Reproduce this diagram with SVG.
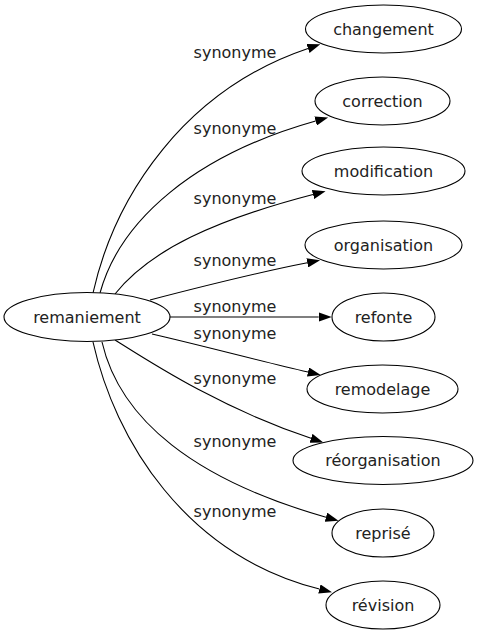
<svg xmlns="http://www.w3.org/2000/svg" width="478" height="635" viewBox="0 0 478 635">
<style>
.node ellipse{fill:#fff;stroke:#000;stroke-width:1.1}
.node text{font-family:"DejaVu Sans",sans-serif;font-size:16px;fill:#222;text-anchor:middle}
.edges path{fill:none;stroke:#000;stroke-width:1.1}
.lbl{font-family:"DejaVu Sans",sans-serif;font-size:16px;fill:#222;text-anchor:middle}
</style>
<defs>
<marker id="arr" viewBox="0 0 13 9.4" refX="0" refY="4.7" markerWidth="13" markerHeight="9.4" markerUnits="userSpaceOnUse" orient="auto">
<path d="M0,0 L13,4.7 L0,9.4 z" fill="#000"/>
</marker>
</defs>
<rect width="478" height="635" fill="#fff"/>
<g class="edges" id="connectors">
<path d="M93,293 C115,195 185,90 308,48.5" marker-end="url(#arr)"/>
<path d="M100,293 C120,220 195,155 315.6,121" marker-end="url(#arr)"/>
<path d="M115,294 C150,250 215,220 313,194.5" marker-end="url(#arr)"/>
<path d="M150,300 C200,287 260,272 307.3,262.8" marker-end="url(#arr)"/>
<path d="M168,317 L318.7,317" marker-end="url(#arr)"/>
<path d="M152,334 C200,345 260,361 308,372" marker-end="url(#arr)"/>
<path d="M115,340 C150,362 220,408 311,438.3" marker-end="url(#arr)"/>
<path d="M102,342 C120,420 195,480 326,517.2" marker-end="url(#arr)"/>
<path d="M93,342 C115,440 185,555 319.4,589" marker-end="url(#arr)"/>
<text class="lbl" x="235" y="58">synonyme</text>
<text class="lbl" x="235" y="134">synonyme</text>
<text class="lbl" x="235" y="204">synonyme</text>
<text class="lbl" x="235" y="266">synonyme</text>
<text class="lbl" x="235" y="312">synonyme</text>
<text class="lbl" x="235" y="339">synonyme</text>
<text class="lbl" x="235" y="384">synonyme</text>
<text class="lbl" x="235" y="447">synonyme</text>
<text class="lbl" x="235" y="517">synonyme</text>
</g>
<g class="node" id="remaniement"><ellipse cx="87" cy="317" rx="83" ry="24.5"/><text x="87" y="322.5">remaniement</text></g>
<g class="node" id="changement"><ellipse cx="383.5" cy="29" rx="78" ry="24"/><text x="383.5" y="34.5">changement</text></g>
<g class="node" id="correction"><ellipse cx="382.5" cy="101" rx="67.5" ry="24"/><text x="382.5" y="106.5">correction</text></g>
<g class="node" id="modification"><ellipse cx="383.5" cy="171" rx="81.5" ry="24"/><text x="383.5" y="176.5">modification</text></g>
<g class="node" id="organisation"><ellipse cx="383.5" cy="245" rx="78.5" ry="24"/><text x="383.5" y="250.5">organisation</text></g>
<g class="node" id="refonte"><ellipse cx="383.5" cy="317" rx="51.5" ry="24"/><text x="383.5" y="322.5">refonte</text></g>
<g class="node" id="remodelage"><ellipse cx="382.5" cy="389" rx="75.5" ry="24"/><text x="382.5" y="394.5">remodelage</text></g>
<g class="node" id="reorganisation"><ellipse cx="383" cy="460.5" rx="90" ry="24"/><text x="383" y="466">réorganisation</text></g>
<g class="node" id="reprise"><ellipse cx="383" cy="533" rx="51" ry="24"/><text x="383" y="538.5">reprisé</text></g>
<g class="node" id="revision"><ellipse cx="383" cy="605" rx="57" ry="24"/><text x="383" y="610.5">révision</text></g>
</svg>
